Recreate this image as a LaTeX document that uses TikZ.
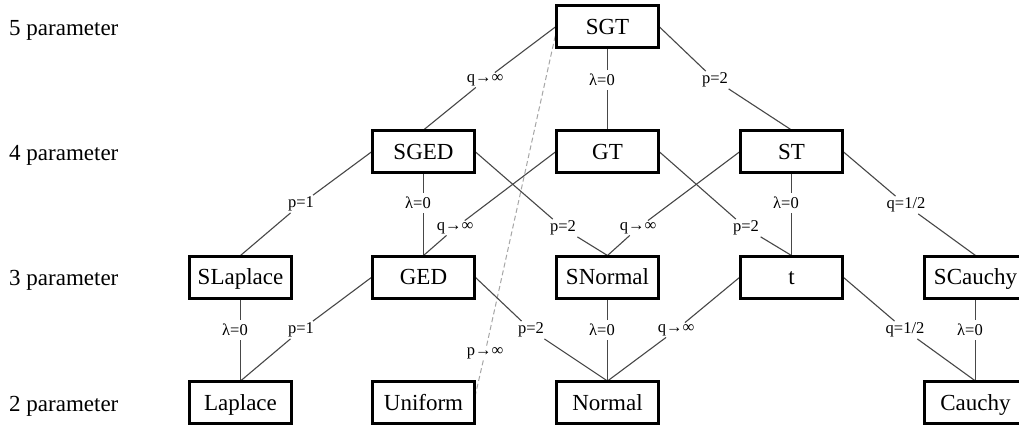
\documentclass[tikz,border=0pt]{standalone}
\usepackage{fontspec}
\setmainfont{Liberation Serif}
\tikzset{
  box/.style={draw=black, line width=2pt, minimum width=101pt, minimum height=41pt, inner sep=0pt,
    font=\fontsize{23}{23}\selectfont, text height=15.5pt, text depth=0pt},
  lab/.style={font=\fontsize{16.5}{16.5}\selectfont, inner sep=1.5pt, text=black},
  vlab/.style={lab, fill=white, inner xsep=1pt, inner ysep=4pt},
  conn/.style={draw=black!72, line width=1.1pt},
  dashconn/.style={draw=black!35, line width=1pt, dash pattern=on 5pt off 3pt},
  side/.style={anchor=base west, font=\fontsize{23}{23}\selectfont, inner sep=0pt},
}
\begin{document}
\begin{tikzpicture}[x=1pt, y=-1pt]
\useasboundingbox (0,0) rectangle (1019,426);
\clip (0,0) rectangle (1019,426);
\fill[white] (0,0) rectangle (1019,426);

% row labels
\node[side] (r5) at (9,35) {5 parameter};
\node[side] (r4) at (9,160) {4 parameter};
\node[side] (r3) at (9,285.5) {3 parameter};
\node[side] (r2) at (9,411) {2 parameter};

% boxes
\node[box] (SGT) at (607.5,26.5) {SGT};
\node[box] (SGED) at (423.5,151.5) {SGED};
\node[box] (GT) at (607.5,151.5) {GT};
\node[box] (ST) at (791.5,151.5) {ST};
\node[box] (SLaplace) at (240.5,277) {SLaplace};
\node[box] (GED) at (423.5,277) {GED};
\node[box] (SNormal) at (607.5,277) {SNormal};
\node[box] (t) at (791.5,277) {t};
\node[box] (SCauchy) at (975.5,277) {SCauchy};
\node[box] (Laplace) at (240.5,402.5) {Laplace};
\node[box] (Uniform) at (423.5,402.5) {Uniform};
\node[box] (Normal) at (607.5,402.5) {Normal};
\node[box] (Cauchy) at (975.5,402.5) {Cauchy};

% diagonal edge labels
\node[lab] (l1) at (485,80) {q→∞};
\node[lab] (l3) at (715,80) {p=2};
\node[lab] (l4) at (301,204) {p=1};
\node[lab] (l6) at (563,228) {p=2};
\node[lab] (l7) at (455,228) {q→∞};
\node[lab] (l8) at (746,228) {p=2};
\node[lab] (l9) at (638,228) {q→∞};
\node[lab] (l11) at (906,205) {q=1/2};
\node[lab] (l13) at (301,330) {p=1};
\node[lab] (l14) at (531,330) {p=2};
\node[lab] (l16) at (676,330) {q→∞};
\node[lab] (l17) at (905,330) {q=1/2};
\node[lab] (lp) at (485,353) {p→∞};

% dashed connector
\draw[dashconn] ([yshift=6pt]Uniform.east) -- (lp) -- ([yshift=-6pt]SGT.west);

% diagonal connectors
\draw[conn] (SGT.west) -- (l1) -- (SGED.north);
\draw[conn] (SGT.east) -- (l3) -- (ST.north);
\draw[conn] (SGED.west) -- (l4) -- (SLaplace.north);
\draw[conn] (SGED.east) -- (l6) -- (SNormal.north);
\draw[conn] (GT.west) -- (l7) -- (GED.north);
\draw[conn] (GT.east) -- (l8) -- (t.north);
\draw[conn] (ST.west) -- (l9) -- (SNormal.north);
\draw[conn] (ST.east) -- (l11) -- (SCauchy.north);
\draw[conn] (GED.west) -- (l13) -- (Laplace.north);
\draw[conn] (GED.east) -- (l14) -- (Normal.north);
\draw[conn] (t.west) -- (l16) -- (Normal.north);
\draw[conn] (t.east) -- (l17) -- (Cauchy.north);

% vertical connectors
\draw[conn] (SGT) -- (GT);
\draw[conn] (SGED) -- (GED);
\draw[conn] (ST) -- (t);
\draw[conn] (SLaplace) -- (Laplace);
\draw[conn] (SNormal) -- (Normal);
\draw[conn] (SCauchy) -- (Cauchy);

% vertical labels
\node[vlab] (l2) at (602,80) {λ=0};
\node[vlab] (l5) at (418,203) {λ=0};
\node[vlab] (l10) at (786,203) {λ=0};
\node[vlab] (l12) at (235,330) {λ=0};
\node[vlab] (l15) at (602,330) {λ=0};
\node[vlab] (l18) at (970,330) {λ=0};

% redraw boxes on top of line ends
\foreach \n in {SGT,SGED,GT,ST,SLaplace,GED,SNormal,t,SCauchy,Laplace,Uniform,Normal,Cauchy}
  \draw[line width=2pt] (\n.north west) rectangle (\n.south east);
\end{tikzpicture}
\end{document}
